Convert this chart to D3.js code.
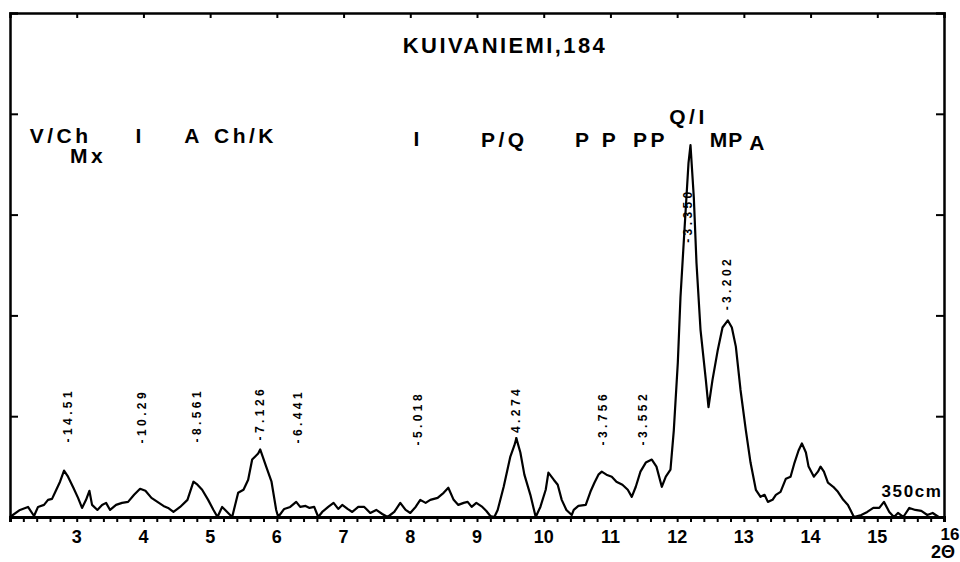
<!DOCTYPE html>
<html>
<head>
<meta charset="utf-8">
<script src="https://cdn.jsdelivr.net/npm/d3@7"></script>
<style>
  body { margin: 0; background: #fff; }
  svg { display: block; }
  text { font-family: "Liberation Sans", Arial, Helvetica, sans-serif; font-weight: bold; fill: #000; }
</style>
</head>
<body>
<div id="chart"><svg width="960" height="562"></svg></div>
<script>
// X-ray diffractogram, sample KUIVANIEMI 184 (2-theta vs. counts)
const twoTheta = [
  2.00, 2.15, 2.27, 2.36, 2.42, 2.51, 2.57, 2.63, 2.68, 2.75, 2.81, 2.87, 2.95, 3.02, 3.08,
  3.14, 3.19, 3.23, 3.31, 3.38, 3.44, 3.50, 3.59, 3.68, 3.77, 3.86, 3.95, 4.03, 4.12, 4.21,
  4.30, 4.37, 4.45, 4.55, 4.66, 4.75, 4.81, 4.88, 4.97, 5.05, 5.11, 5.18, 5.27, 5.33, 5.42,
  5.50, 5.57, 5.63, 5.72, 5.75, 5.84, 5.92, 5.99, 6.02, 6.11, 6.20, 6.29, 6.35, 6.43, 6.49,
  6.56, 6.62, 6.68, 6.77, 6.85, 6.92, 6.98, 7.06, 7.13, 7.22, 7.31, 7.40, 7.49, 7.58, 7.66,
  7.76, 7.85, 7.93, 8.00, 8.08, 8.15, 8.23, 8.30, 8.41, 8.50, 8.57, 8.65, 8.72, 8.80, 8.86,
  8.92, 8.99, 9.08, 9.14, 9.20, 9.26, 9.31, 9.40, 9.50, 9.56, 9.59, 9.65, 9.71, 9.80, 9.88,
  9.95, 10.03, 10.07, 10.15, 10.21, 10.27, 10.34, 10.42, 10.45, 10.52, 10.63, 10.70, 10.76, 10.82, 10.87,
  10.94, 11.02, 11.09, 11.18, 11.26, 11.32, 11.38, 11.45, 11.53, 11.62, 11.69, 11.77, 11.83, 11.90, 11.95,
  12.01, 12.05, 12.11, 12.17, 12.20, 12.25, 12.29, 12.35, 12.43, 12.47, 12.53, 12.61, 12.68, 12.76, 12.82,
  12.88, 12.95, 13.03, 13.10, 13.18, 13.25, 13.31, 13.36, 13.43, 13.48, 13.55, 13.63, 13.70, 13.76, 13.82,
  13.87, 13.93, 13.97, 14.05, 14.11, 14.15, 14.20, 14.26, 14.34, 14.41, 14.49, 14.56, 14.65, 14.76, 14.85,
  14.94, 15.03, 15.10, 15.18, 15.25, 15.31, 15.39, 15.48, 15.57, 15.66, 15.75, 15.83, 15.92, 16.00
];
const counts = [
  0.0, 0.7, 1.0, 0.1, 1.0, 1.2, 1.7, 1.8, 2.5, 3.5, 4.6, 4.0, 2.9, 1.9, 0.9,
  1.7, 2.6, 1.2, 0.7, 1.2, 1.4, 0.7, 1.2, 1.4, 1.5, 2.2, 2.8, 2.6, 1.9, 1.5,
  1.1, 0.9, 0.5, 1.0, 1.7, 3.5, 3.2, 2.7, 1.7, 0.7, 0.0, 1.0, 0.4, 0.0, 2.4,
  2.7, 3.7, 5.7, 6.3, 6.7, 5.0, 3.5, 0.7, 0.0, 0.8, 1.0, 1.5, 1.0, 1.1, 0.9,
  1.0, 0.0, 0.5, 1.0, 1.4, 0.8, 1.2, 0.8, 0.5, 1.0, 1.0, 0.4, 0.7, 0.3, 0.0,
  0.5, 1.4, 0.7, 0.4, 1.0, 1.7, 1.4, 1.7, 1.9, 2.4, 2.9, 1.7, 1.2, 1.4, 1.5,
  1.0, 1.4, 1.0, 0.6, 0.1, 0.0, 0.7, 3.0, 6.0, 7.1, 7.8, 6.4, 4.2, 2.2, 0.0,
  1.0, 2.7, 4.4, 3.7, 3.2, 1.7, 0.7, 0.2, 0.7, 1.1, 1.2, 2.5, 3.4, 4.2, 4.5,
  4.2, 4.0, 3.5, 3.2, 2.7, 2.0, 3.0, 4.5, 5.4, 5.7, 5.0, 3.0, 4.0, 4.7, 8.6,
  15.3, 21.8, 28.5, 35.1, 36.9, 31.7, 25.2, 18.6, 13.6, 10.9, 13.6, 16.6, 18.8, 19.5, 18.8,
  16.9, 12.6, 8.6, 5.4, 2.7, 2.0, 2.2, 1.5, 1.7, 2.2, 2.5, 3.8, 4.0, 5.4, 6.6,
  7.3, 6.4, 5.0, 4.0, 4.5, 5.0, 4.5, 3.4, 3.0, 2.5, 1.7, 1.2, 0.0, 0.2, 0.5,
  0.9, 0.9, 1.5, 0.5, 0.0, 0.4, 0.0, 0.9, 0.7, 0.6, 0.2, 0.4, 0.0, 0.0
];

// mineral identifications: name, 2-theta, level (counts) of the text baseline
const mineralNames = ["V/Ch", "Mx", "I", "A", "Ch/K", "I", "P/Q", "P", "P", "PP", "Q/I", "MP", "A"];
const mineralAt    = [2.76, 3.17, 3.95, 4.75, 5.53, 8.12, 9.41, 10.60, 11.00, 11.60, 12.17, 12.74, 13.22];
const mineralLevel = [37.1, 35.1, 37.1, 37.1, 37.1, 36.8, 36.7, 36.7, 36.7, 36.7, 39.0, 36.7, 36.4];

// d-spacings (Å) written over the peaks: text, 2-theta, level of the label's foot
const dLabels  = ["-14.51", "-10.29", "-8.561", "-7.126", "-6.441", "-5.018", "-4.274", "-3.756", "-3.552", "-3.350", "-3.202"];
const dAt      = [2.87, 3.98, 4.80, 5.75, 6.32, 8.12, 9.59, 10.89, 11.49, 12.17, 12.75];
const dLevel   = [7.4, 7.3, 7.4, 7.6, 7.3, 7.1, 7.6, 7.1, 7.1, 27.2, 20.5];

const xLabels = [3, 4, 5, 6, 7, 8, 9, 10, 11, 12, 13, 14, 15, 16];

const width = 960, height = 562;
const margin = {top: 13, right: 16, bottom: 45, left: 10};

const svg = d3.select("#chart svg");

const x = d3.scaleLinear()
    .domain([2, 16])
    .range([margin.left, width - margin.right]);

const y = d3.scaleLinear()
    .domain([0, 50])
    .range([height - margin.bottom, margin.top]);

// frame: left, top, right
svg.append("g")
    .attr("transform", "translate(" + margin.left + ",0)")
    .call(d3.axisLeft(y).tickValues([10, 20, 30, 40]).tickSize(-8).tickFormat(""))
    .call(g => g.selectAll("line").attr("stroke-width", 2))
    .call(g => g.select(".domain").attr("stroke-width", 2.5));

svg.append("g")
    .attr("transform", "translate(" + (width - margin.right) + ",0)")
    .call(d3.axisRight(y).tickValues([10, 20, 30, 40]).tickSize(-8).tickFormat(""))
    .call(g => g.selectAll("line").attr("stroke-width", 2))
    .call(g => g.select(".domain").attr("stroke-width", 2.5));

svg.append("g")
    .attr("transform", "translate(0," + margin.top + ")")
    .call(d3.axisTop(x).tickValues(d3.range(3, 16)).tickSize(-5).tickFormat(""))
    .call(g => g.selectAll("line").attr("stroke-width", 2))
    .call(g => g.select(".domain").attr("stroke-width", 2.5));

// bottom: minor ticks every 0.2, labels at whole degrees
svg.append("g")
    .attr("transform", "translate(0," + (height - margin.bottom) + ")")
    .call(d3.axisBottom(x).tickValues(d3.range(10, 161, 2).map(v => v / 10)).tickSize(5).tickFormat(""))
    .call(g => g.selectAll("line").attr("stroke-width", 2))
    .call(g => g.select(".domain").attr("stroke-width", 3));

svg.append("g")
    .selectAll("text")
    .data(xLabels)
    .join("text")
    .attr("x", d => x(d) + (d === 16 ? 6 : 0))
    .attr("y", d => height - margin.bottom + (d === 16 ? 23 : 26))
    .attr("text-anchor", "middle")
    .attr("font-size", d => d === 16 ? 17 : 18)
    .text(d => d);

svg.append("text")
    .attr("x", x(16) - 1)
    .attr("y", 558)
    .attr("text-anchor", "middle")
    .attr("font-size", 18)
    .text("2Θ");

// trace
const line = d3.line()
    .x((d, i) => x(twoTheta[i]))
    .y(d => y(d))
    .curve(d3.curveLinear);

svg.append("path")
    .attr("fill", "none")
    .attr("stroke", "#000")
    .attr("stroke-width", 2.2)
    .attr("stroke-linejoin", "round")
    .attr("d", line(counts));

// title
svg.append("text")
    .attr("x", 505)
    .attr("y", 53)
    .attr("text-anchor", "middle")
    .attr("font-size", 22)
    .attr("letter-spacing", 2.4)
    .text("KUIVANIEMI,184");

// mineral names
svg.append("g")
    .selectAll("text")
    .data(mineralNames)
    .join("text")
    .attr("x", (d, i) => x(mineralAt[i]))
    .attr("y", (d, i) => y(mineralLevel[i]))
    .attr("text-anchor", "middle")
    .attr("font-size", 21)
    .attr("letter-spacing", (d, i) => i === 11 ? 1 : 3.5)
    .text(d => d);

// d-spacing labels, written upwards
svg.append("g")
    .selectAll("text")
    .data(dLabels)
    .join("text")
    .attr("transform", (d, i) => "translate(" + x(dAt[i]) + "," + y(dLevel[i]) + ") rotate(-90)")
    .attr("dominant-baseline", "central")
    .attr("font-size", 12)
    .attr("letter-spacing", 3.4)
    .text(d => d);

svg.append("text")
    .attr("x", 912)
    .attr("y", 497)
    .attr("text-anchor", "middle")
    .attr("font-size", 17)
    .attr("letter-spacing", 1.6)
    .text("350cm");
</script>
</body>
</html>
